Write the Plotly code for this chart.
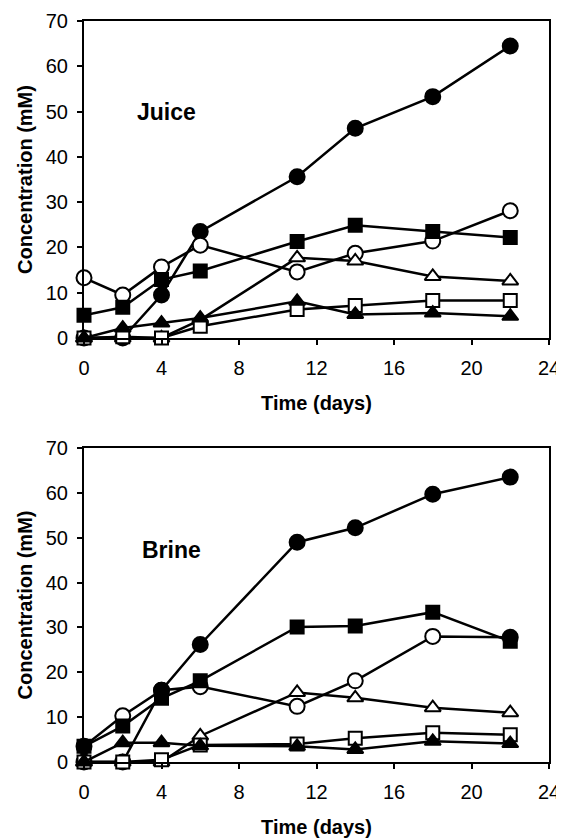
import plotly.graph_objects as go

days = [0, 2, 4, 6, 11, 14, 18, 22]

# Juice panel
juice_filled_circle = [0, 0, 9.5, 23.5, 35.6, 46.3, 53.3, 64.5]
juice_open_circle = [13.3, 9.5, 15.7, 20.5, 14.6, 18.7, 21.4, 28.1]
juice_filled_square = [5.0, 6.8, 12.9, 14.8, 21.3, 24.9, 23.5, 22.2]
juice_open_triangle = [0, 0, 0, 4.0, 17.7, 17.0, 13.6, 12.6]
juice_filled_triangle = [0, 2.2, 3.3, 4.4, 8.1, 5.2, 5.5, 4.8]
juice_open_square = [0, 0.3, 0, 2.6, 6.3, 7.2, 8.3, 8.3]

# Brine panel
brine_filled_circle = [0, 0, 16.0, 26.2, 49.0, 52.2, 59.7, 63.5]
brine_open_circle = [3.5, 10.3, 16.0, 16.8, 12.4, 18.1, 28.0, 27.8]
brine_filled_square = [3.5, 8.0, 14.2, 18.1, 30.1, 30.3, 33.4, 26.9]
brine_open_triangle = [0, 0, 0, 5.8, 15.5, 14.3, 12.1, 11.0]
brine_filled_triangle = [0, 4.3, 4.3, 3.6, 3.5, 2.8, 4.6, 4.1]
brine_open_square = [0, 0, 0.5, 3.8, 4.0, 5.3, 6.5, 6.1]

x_ticks = [0, 4, 8, 12, 16, 20, 24]
y_ticks = [0, 10, 20, 30, 40, 50, 60, 70]

FONT = "Arial, Liberation Sans, sans-serif"

fig = go.Figure()

SIZES = {"circle": 15, "square": 13, "triangle-up": 14}

def add_series(y, symbol, filled, xa, ya, fills=None):
    if fills is None:
        color = "black" if filled else "white"
    else:
        color = ["black" if f else "white" for f in fills]
    fig.add_trace(go.Scatter(
        x=days, y=y, mode="lines+markers",
        line=dict(color="black", width=2.5),
        marker=dict(symbol=symbol, size=SIZES[symbol],
                    color=color,
                    line=dict(color="black", width=2)),
        xaxis=xa, yaxis=ya, showlegend=False, cliponaxis=False,
    ))

for ys, sym, filled in [
    (juice_filled_circle, "circle", True),
    (juice_open_circle, "circle", False),
    (juice_filled_square, "square", True),
    (juice_open_triangle, "triangle-up", False),
    (juice_open_square, "square", False),
    (juice_filled_triangle, "triangle-up", True),
]:
    add_series(ys, sym, filled, "x", "y")

# last point of this series appears dark in the print (overlapping marks)
add_series(brine_open_circle, "circle", False, "x2", "y2",
           fills=[False] * 7 + [True])
add_series(brine_filled_circle, "circle", True, "x2", "y2")
add_series(brine_filled_square, "square", True, "x2", "y2")
add_series(brine_open_triangle, "triangle-up", False, "x2", "y2")
add_series(brine_open_square, "square", False, "x2", "y2")
add_series(brine_filled_triangle, "triangle-up", True, "x2", "y2")

axis_common = dict(
    showline=True, linecolor="black", linewidth=2, mirror=True,
    ticks="outside", ticklen=5, tickwidth=1.5, tickcolor="black",
    showgrid=False, zeroline=False,
    tickfont=dict(family=FONT, size=20, color="black"),
)

xcommon = dict(axis_common, range=[0, 24], tickvals=x_ticks,
               ticklabelstandoff=6,
               title=dict(text="<b>Time (days)</b>",
                          font=dict(family=FONT, size=20, color="black"),
                          standoff=18))
ycommon = dict(axis_common, range=[0, 70], tickvals=y_ticks,
               ticklabelstandoff=5,
               title=dict(text="<b>Concentration (mM)</b>",
                          font=dict(family=FONT, size=20, color="black"),
                          standoff=8))

fig.update_layout(
    width=564, height=840,
    margin=dict(l=76, r=23, t=13, b=86, autoexpand=False),
    plot_bgcolor="white", paper_bgcolor="white",
    xaxis=dict(xcommon, anchor="y", domain=[0, 1]),
    yaxis=dict(ycommon, anchor="x", domain=[0.5722, 1]),
    xaxis2=dict(xcommon, anchor="y2", domain=[0, 1]),
    yaxis2=dict(ycommon, anchor="x2", domain=[0, 0.4238]),
    annotations=[
        dict(text="<b>Juice</b>", x=4.25, y=50, xref="x", yref="y",
             showarrow=False, font=dict(family=FONT, size=23, color="black")),
        dict(text="<b>Brine</b>", x=4.5, y=47.2, xref="x2", yref="y2",
             showarrow=False, font=dict(family=FONT, size=23, color="black")),
    ],
)

fig.write_html("out.html")
